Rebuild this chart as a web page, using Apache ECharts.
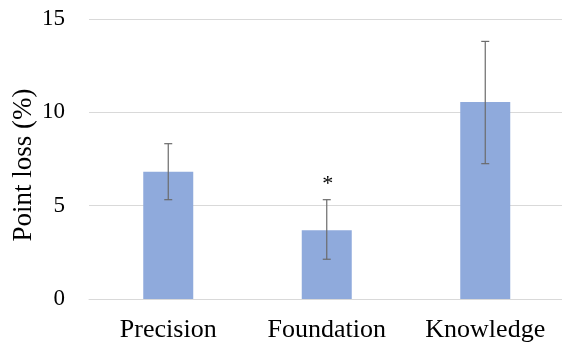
<!DOCTYPE html>
<html>
<head>
<meta charset="utf-8">
<script src="https://cdn.jsdelivr.net/npm/echarts@6/dist/echarts.min.js"></script>
<style>
html,body{margin:0;padding:0;background:#fff;}
#chart{width:562px;height:347px;}
</style>
</head>
<body>
<div id="chart"></div>
<script>
var categories = ["Precision", "Foundation", "Knowledge"];
var values = [6.82, 3.68, 10.55];
var errHigh = [8.32, 5.32, 13.80];
var errLow = [5.32, 2.13, 7.25];
var marks = ["", "*", ""];
var yTicks = [0, 5, 10, 15];

var chart = echarts.init(document.getElementById('chart'), null, {renderer: 'canvas'});
var font = '"Liberation Serif", "Times New Roman", serif';

var errData = categories.map(function (c, i) { return [i, errLow[i], errHigh[i], marks[i]]; });

chart.setOption({
  animation: false,
  grid: {left: 89, top: 19, bottom: 48, width: 475.5, outerBoundsMode: 'none', containLabel: false},
  xAxis: {
    type: 'category',
    data: categories,
    axisLine: {show: true, lineStyle: {color: '#d9d9d9', width: 1}},
    axisTick: {show: false},
    axisLabel: {color: '#000', fontFamily: font, fontSize: 26, margin: 18}
  },
  yAxis: {
    type: 'value',
    min: yTicks[0],
    max: yTicks[yTicks.length - 1],
    interval: yTicks[1] - yTicks[0],
    name: 'Point loss (%)',
    nameLocation: 'middle',
    nameGap: 52,
    nameMoveOverlap: false,
    nameTextStyle: {color: '#000', fontFamily: font, fontSize: 27, padding: [0, 12, 0, 0]},
    axisLine: {show: false},
    axisTick: {show: false},
    splitLine: {lineStyle: {color: '#d9d9d9', width: 1}},
    axisLabel: {color: '#000', fontFamily: font, fontSize: 23, margin: 24}
  },
  series: [
    {
      type: 'bar',
      data: values,
      barWidth: 50,
      itemStyle: {color: '#8faadc'}
    },
    {
      type: 'custom',
      data: errData,
      z: 10,
      renderItem: function (params, api) {
        var x = api.value(0);
        var lo = api.coord([x, api.value(1)]);
        var hi = api.coord([x, api.value(2)]);
        var cw = 4;
        var style = {stroke: '#6b6b6b', lineWidth: 1.2};
        var children = [
          {type: 'line', shape: {x1: hi[0], y1: hi[1], x2: lo[0], y2: lo[1]}, style: style},
          {type: 'line', shape: {x1: hi[0] - cw, y1: hi[1], x2: hi[0] + cw, y2: hi[1]}, style: style},
          {type: 'line', shape: {x1: lo[0] - cw, y1: lo[1], x2: lo[0] + cw, y2: lo[1]}, style: style}
        ];
        var m = errData[params.dataIndex][3];
        if (m) {
          children.push({type: 'text', x: hi[0] + 1, y: hi[1] - 4,
            style: {text: m, fill: '#000', font: '22px ' + font, textAlign: 'center', textVerticalAlign: 'bottom'}});
        }
        return {type: 'group', children: children};
      }
    }
  ]
});
</script>
</body>
</html>
